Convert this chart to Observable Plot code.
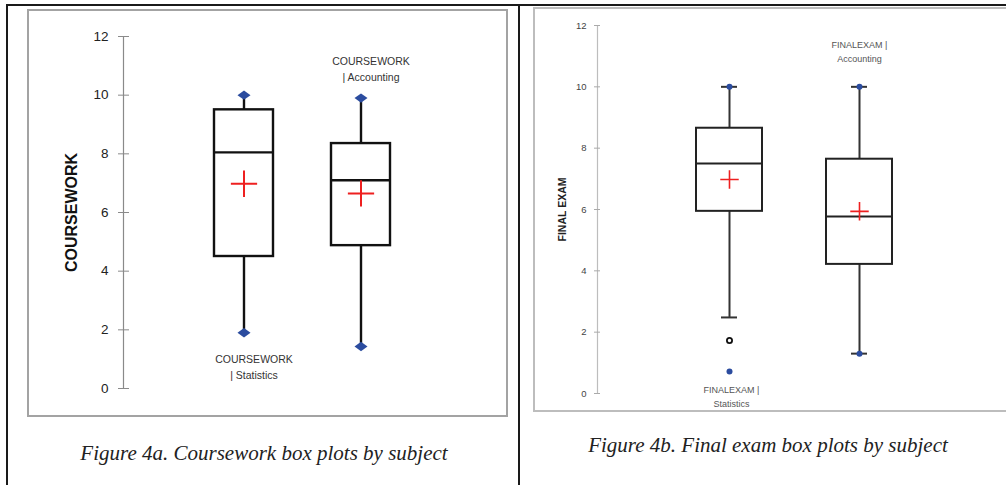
<!DOCTYPE html>
<html><head><meta charset="utf-8">
<script src="https://cdn.jsdelivr.net/npm/d3@7"></script>
<script src="https://cdn.jsdelivr.net/npm/@observablehq/plot@0.6"></script>
<style>
html,body{margin:0;padding:0;background:#fff;overflow:hidden;}
#page{position:relative;width:1006px;height:485px;overflow:hidden;background:#fff;}
.line{position:absolute;background:#1a1a1a;}
.gbox{position:absolute;box-sizing:border-box;}
.cap{position:absolute;font-family:"Liberation Serif",serif;font-style:italic;font-size:21px;line-height:21px;color:#222;text-align:center;white-space:nowrap;}
.plotwrap{position:absolute;}
</style></head>
<body><div id="page">
<div class="line" style="left:6px;top:4px;width:1000px;height:2px;"></div>
<div class="line" style="left:6px;top:4px;width:2px;height:481px;"></div>
<div class="line" style="left:518px;top:4px;width:2px;height:481px;"></div>
<div class="gbox" style="left:27px;top:9px;width:481px;height:408px;border:2px solid #a3a3a3;"></div>
<div class="gbox" style="left:533px;top:7px;width:480px;height:405px;border:2px solid #bdbdbd;border-right:none;"></div>
<div class="plotwrap" id="p1" style="left:28px;top:10px;"></div>
<div class="plotwrap" id="p2" style="left:534px;top:8px;"></div>
<div class="cap" style="left:64px;width:400px;top:443px;">Figure 4a. Coursework box plots by subject</div>
<div class="cap" style="left:568px;width:400px;top:435px;">Figure 4b. Final exam box plots by subject</div>
</div>
<script>
// ---- data ----
const subjects = ["Statistics", "Accounting"];
const yTicks = [0, 2, 4, 6, 8, 10, 12];

// Coursework (Figure 4a)
const cwMin = [1.9, 1.43];
const cwQ1 = [4.5, 4.87];
const cwMedian = [8.05, 7.1];
const cwQ3 = [9.5, 8.35];
const cwMax = [10.0, 9.9];
const cwMean = [6.98, 6.65];
const cwLabels = ["COURSEWORK\n| Statistics", "COURSEWORK\n| Accounting"];

// Final exam (Figure 4b)
const feMin = [0.72, 1.3];
const feLowWhisker = [2.48, 1.3];
const feQ1 = [5.94, 4.21];
const feMedian = [7.5, 5.77];
const feQ3 = [8.65, 7.64];
const feMax = [10.0, 10.0];
const feMean = [6.98, 5.94];
const feOutliers = [{subject: "Statistics", value: 1.73}];
const feLabels = ["FINALEXAM |\nStatistics", "FINALEXAM |\nAccounting"];

const cw = subjects.map((s, i) => ({subject: s, min: cwMin[i], q1: cwQ1[i], median: cwMedian[i], q3: cwQ3[i], max: cwMax[i], mean: cwMean[i], label: cwLabels[i]}));
const fe = subjects.map((s, i) => ({subject: s, min: feMin[i], low: feLowWhisker[i], q1: feQ1[i], median: feMedian[i], q3: feQ3[i], max: feMax[i], mean: feMean[i], label: feLabels[i]}));

const BLUE = "#2b4c9f", RED = "#ee2020";

// wide, flat diamond marker (like the spreadsheet's)
const wideDiamond = {
  draw(context, size) {
    const r = Math.sqrt(size / Math.PI);
    const w = r * 1.25, h = r * 0.9;
    context.moveTo(-w, 0);
    context.lineTo(0, -h);
    context.lineTo(w, 0);
    context.lineTo(0, h);
    context.closePath();
  }
};

const p1 = Plot.plot({
  width: 480, height: 406,
  marginLeft: 95, marginRight: 27, marginTop: 26, marginBottom: 28,
  style: {fontFamily: "Liberation Sans, Arial, sans-serif", background: "transparent", overflow: "visible"},
  x: {type: "band", domain: subjects, paddingInner: 0.492, paddingOuter: 0.763, axis: null},
  y: {domain: [0, 12], axis: null},
  marks: [
    Plot.frame({anchor: "left", stroke: "#8a8a8a", strokeWidth: 1.2}),
    Plot.axisY(yTicks, {tickSize: 11, dx: 6, tickPadding: 10, fontSize: 13.5, stroke: "#8a8a8a", fill: "#222", label: null}),
    Plot.text(["COURSEWORK"], {frameAnchor: "left", textAnchor: "middle", rotate: -90, dx: -52, fontSize: 16, fontWeight: "bold", fill: "#111"}),
    Plot.ruleX(cw, {x: "subject", y1: "min", y2: "max", stroke: "#111", strokeWidth: 2.4}),
    Plot.barY(cw, {x: "subject", y1: "q1", y2: "q3", fill: "white", stroke: "#111", strokeWidth: 2.4}),
    Plot.tickY(cw, {x: "subject", y: "median", stroke: "#111", strokeWidth: 2.4}),
    Plot.dot(cw, {x: "subject", y: "mean", symbol: "plus", r: 8.5, stroke: RED, strokeWidth: 2}),
    Plot.dot(cw, {x: "subject", y: "max", symbol: wideDiamond, r: 5.2, fill: BLUE, stroke: "none"}),
    Plot.dot(cw, {x: "subject", y: "min", symbol: wideDiamond, r: 5.2, fill: BLUE, stroke: "none"}),
    Plot.text(cw.filter(d => d.subject === "Accounting"), {x: "subject", y: "max", text: "label", dy: -30, dx: 10, lineAnchor: "middle", lineHeight: 1.55, fontSize: 10.5, fill: "#333"}),
    Plot.text(cw.filter(d => d.subject === "Statistics"), {x: "subject", y: "min", text: "label", dy: 33, dx: 10, lineAnchor: "middle", lineHeight: 1.55, fontSize: 10.5, fill: "#333"})
  ]
});
document.getElementById("p1").appendChild(p1);

const p2 = Plot.plot({
  width: 472, height: 403,
  marginLeft: 63, marginRight: 15, marginTop: 17, marginBottom: 18,
  style: {fontFamily: "Liberation Sans, Arial, sans-serif", background: "transparent", overflow: "visible"},
  x: {type: "band", domain: subjects, paddingInner: 0.496, paddingOuter: 0.752, axis: null},
  y: {domain: [0, 12], axis: null},
  marks: [
    Plot.frame({anchor: "left", stroke: "#bdbdbd", strokeWidth: 1.2}),
    Plot.axisY(yTicks, {tickSize: 6, dx: 3, tickPadding: 8, fontSize: 9.5, stroke: "#aaa", fill: "#444", label: null}),
    Plot.text(["FINAL EXAM"], {frameAnchor: "left", textAnchor: "middle", rotate: -90, dx: -35, fontSize: 10.5, fontWeight: "bold", fill: "#222"}),
    Plot.ruleX(fe, {x: "subject", y1: "low", y2: "max", stroke: "#333", strokeWidth: 2}),
    Plot.tickY(fe, {x: "subject", y: "max", insetLeft: 25, insetRight: 25, stroke: "#333", strokeWidth: 2}),
    Plot.tickY(fe, {x: "subject", y: "low", insetLeft: 25, insetRight: 25, stroke: "#333", strokeWidth: 2}),
    Plot.barY(fe, {x: "subject", y1: "q1", y2: "q3", fill: "white", stroke: "#222", strokeWidth: 2}),
    Plot.tickY(fe, {x: "subject", y: "median", stroke: "#222", strokeWidth: 2}),
    Plot.dot(fe, {x: "subject", y: "mean", symbol: "plus", r: 6, stroke: RED, strokeWidth: 1.6}),
    Plot.dot(feOutliers, {x: "subject", y: "value", r: 2.6, fill: "white", stroke: "#111", strokeWidth: 1.8}),
    Plot.dot(fe, {x: "subject", y: "max", r: 3, fill: BLUE, stroke: "none"}),
    Plot.dot(fe, {x: "subject", y: "min", r: 3, fill: BLUE, stroke: "none"}),
    Plot.text(fe.filter(d => d.subject === "Accounting"), {x: "subject", y: "max", text: "label", dy: -36.5, dx: 0, lineAnchor: "middle", lineHeight: 1.55, fontSize: 9, fill: "#555"}),
    Plot.text(fe.filter(d => d.subject === "Statistics"), {x: "subject", y: "min", text: "label", dy: 24.5, dx: 2, lineAnchor: "middle", lineHeight: 1.55, fontSize: 9, fill: "#555"})
  ]
});
document.getElementById("p2").appendChild(p2);
</script>
</body></html>
